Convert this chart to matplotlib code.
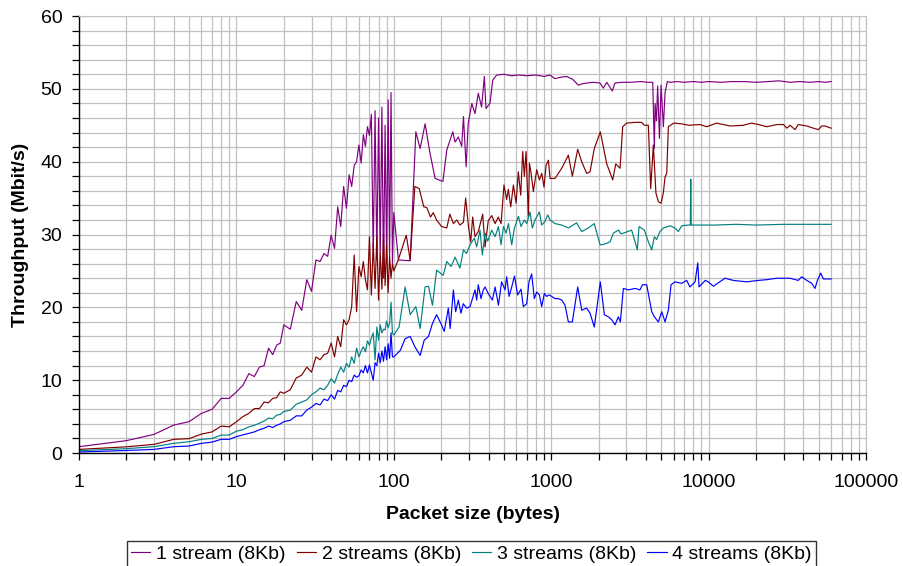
import matplotlib
matplotlib.use("Agg")
import matplotlib.pyplot as plt
from matplotlib.ticker import MultipleLocator, LogLocator, FuncFormatter, NullFormatter

# ── Colours (Excel default series palette) ──────────────────────────────────
PURPLE = "#800080"
MAROON = "#800000"
TEAL = "#008080"
BLUE = "#0000FF"
GRID = "#C0C0C0"

plt.rcParams.update({"font.family": ["Liberation Sans", "DejaVu Sans"], "font.size": 14})

# ── Data: packet sizes 1..100 shared by all series ─────────────────────────
SIZES_SMALL = list(range(1, 21)) + list(range(22, 101, 2))

S1_SMALL = [0.87, 1.7, 2.56, 3.84, 4.3, 5.45, 6.0, 7.5, 7.5, 8.4,
            9.3, 10.9, 10.5, 11.8, 12.0, 14.4, 13.5, 14.8, 15.1, 17.6,
            17.0, 20.8, 19.6, 23.8, 22.2, 26.5, 26.3, 27.4, 27.0, 29.9,
            28.1, 33.8, 31.1, 36.6, 33.6, 38.2, 36.6, 39.5, 40.0, 42.3,
            39.8, 43.7, 42.1, 44.8, 43.6, 46.5, 27.0, 47.0, 26.5, 46.0,
            27.5, 47.5, 24.0, 45.0, 26.5, 48.5, 27.0, 49.5, 26.0, 33.0]
S2_SMALL = [0.5, 0.85, 1.19, 1.88, 1.97, 2.6, 2.9, 3.7, 3.6, 4.3,
            5.0, 5.45, 6.1, 6.1, 7.0, 6.9, 7.5, 7.6, 8.4, 8.2,
            8.7, 10.3, 10.7, 11.8, 11.1, 13.2, 12.8, 13.5, 13.7, 15.1,
            13.2, 16.0, 14.6, 18.3, 17.6, 18.3, 20.1, 27.2, 19.4, 25.6,
            24.2, 26.3, 23.8, 22.4, 29.7, 21.7, 28.8, 22.6, 29.7, 21.0,
            27.5, 22.5, 30.0, 23.0, 28.5, 22.0, 27.0, 24.0, 26.0, 25.0]
S3_SMALL = [0.32, 0.6, 0.87, 1.33, 1.55, 1.88, 2.0, 2.47, 2.47, 3.0,
            3.2, 3.6, 3.8, 4.1, 4.4, 4.8, 4.7, 5.2, 5.3, 5.7,
            5.9, 6.7, 7.0, 7.3, 8.0, 8.4, 8.9, 8.7, 9.3, 10.2,
            9.6, 10.8, 11.8, 11.1, 12.3, 11.8, 13.2, 12.3, 14.4, 13.2,
            14.0, 14.6, 13.9, 15.4, 14.8, 15.8, 16.5, 12.8, 17.3, 15.5,
            17.6, 16.5, 17.0, 16.9, 18.1, 17.2, 17.8, 20.7, 16.4, 16.2]
S4_SMALL = [0.14, 0.35, 0.5, 0.87, 0.96, 1.33, 1.5, 1.88, 1.88, 2.25,
            2.5, 2.7, 2.9, 3.2, 3.4, 3.7, 3.5, 3.8, 4.0, 4.3,
            4.5, 5.1, 5.1, 5.9, 6.3, 6.8, 6.6, 7.4, 7.2, 8.0,
            7.4, 8.6, 8.4, 9.3, 9.1, 10.0, 9.8, 10.7, 10.4, 10.6,
            11.4, 11.0, 12.0, 11.0, 12.1, 11.0, 10.0, 12.4, 12.0, 13.7,
            12.4, 14.0, 12.6, 14.6, 12.8, 15.0, 13.0, 16.5, 13.2, 13.2]

# ── Data: packet sizes above 100 (own sampling per series) ─────────────────
S1_TAIL_X = [107, 127, 138, 147, 158, 170, 183, 205, 217, 237,
             245, 257, 270, 277, 288, 297, 313, 328, 344, 361,
             376, 385, 408, 425, 450, 500, 560, 620, 700, 800,
             900, 982, 1057, 1150, 1254, 1370, 1486, 1580, 1679, 1850,
             2042, 2144, 2253, 2444, 2540, 2800, 3200, 3700, 4100, 4415,
             4520, 4571, 4660, 4745, 4870, 4987, 5158, 5287, 5469, 5688,
             6300, 7000, 8000, 9000, 10000, 12000, 14000, 17000, 20000, 24000,
             28000, 33000, 38000, 44000, 50000, 55000, 60000]
S1_TAIL_Y = [26.5, 26.4, 44.1, 41.8, 45.2, 41.1, 37.7, 37.3, 41.6, 44.1,
             42.7, 43.4, 42.1, 46.2, 39.3, 45.3, 48.0, 46.6, 49.4, 47.5,
             51.7, 47.3, 48.0, 51.2, 51.9, 52.0, 51.8, 51.9, 51.8, 51.9,
             51.7, 51.9, 51.4, 51.6, 51.7, 51.3, 50.5, 50.7, 50.8, 50.9,
             50.8, 50.1, 50.9, 49.7, 50.8, 50.9, 50.9, 51.0, 50.9, 50.9,
             41.8, 48.0, 45.6, 50.4, 43.2, 50.5, 44.8, 49.5, 51.0, 50.9,
             51.0, 50.9, 51.0, 50.9, 51.0, 50.9, 51.0, 51.0, 50.9, 51.0,
             51.1, 50.9, 51.0, 50.9, 51.0, 50.9, 51.0]

S2_TAIL_X = [107, 120, 127, 136, 145, 155, 162, 171, 178, 187,
             201, 217, 227, 239, 251, 263, 277, 286, 298, 308,
             317, 328, 344, 367, 380, 398, 419, 440, 461, 480,
             501, 521, 534, 553, 575, 598, 618, 640, 659, 675,
             692, 716, 727, 745, 770, 809, 841, 871, 900, 927,
             960, 983, 1057, 1166, 1285, 1362, 1473, 1562, 1679, 1764,
             1878, 2051, 2253, 2459, 2570, 2737, 2845, 3017, 3406, 3756,
             3906, 4140, 4285, 4455, 4626, 4795, 4987, 5156, 5285, 5418,
             5548, 6000, 6700, 7500, 8820, 9720, 11250, 13670, 16600, 18750,
             20700, 23400, 27100, 29900, 31400, 32900, 35400, 37100, 42000, 46300,
             49800, 52300, 55000, 60000]
S2_TAIL_Y = [26.6, 29.9, 26.5, 36.6, 36.3, 33.8, 33.7, 32.4, 33.0, 32.0,
             31.1, 30.9, 32.8, 31.5, 32.0, 31.3, 31.7, 35.0, 31.1, 29.0,
             32.4, 29.7, 30.4, 32.8, 28.3, 31.9, 32.6, 31.5, 32.4, 31.5,
             36.8, 34.8, 36.2, 33.8, 36.8, 34.3, 38.6, 35.4, 41.4, 38.0,
             41.4, 32.4, 39.8, 38.4, 35.9, 38.9, 37.5, 38.4, 36.5, 39.5,
             40.2, 37.7, 37.7, 39.1, 40.9, 38.0, 41.7, 40.0, 38.4, 38.6,
             41.8, 44.1, 39.7, 37.5, 39.7, 39.1, 44.8, 45.3, 45.4, 45.4,
             45.0, 45.0, 36.3, 42.3, 35.7, 34.5, 34.3, 35.7, 37.9, 38.4,
             44.8, 45.3, 45.2, 45.0, 45.1, 44.8, 45.3, 44.9, 45.0, 45.3,
             45.1, 44.8, 45.1, 45.1, 44.6, 45.0, 44.4, 45.1, 44.9, 44.6,
             44.4, 44.9, 44.9, 44.6]

S3_TAIL_X = [108, 118, 127, 138, 147, 158, 166, 176, 187, 206,
             217, 231, 245, 263, 277, 290, 305, 325, 336, 353,
             365, 380, 395, 419, 440, 462, 480, 497, 517, 535,
             561, 584, 619, 643, 675, 699, 733, 759, 789, 841,
             870, 913, 950, 982, 1057, 1166, 1285, 1450, 1562, 1722,
             1878, 2042, 2113, 2253, 2366, 2483, 2670, 2776, 2873, 3243,
             3525, 3612, 3906, 4140, 4350, 4520, 4670, 4900, 5158, 5688,
             6112, 6420, 6742, 7440, 7650, 7700, 7750, 8620, 9515, 11000,
             15000, 20000, 30000, 40000, 50000, 60000]
S3_TAIL_Y = [17.3, 22.8, 19.0, 20.1, 17.1, 22.8, 22.9, 20.3, 25.1, 24.4,
             26.3, 25.6, 26.9, 25.4, 27.9, 27.4, 28.6, 29.5, 28.3, 30.6,
             27.2, 30.2, 29.1, 30.6, 29.7, 31.1, 28.6, 31.1, 30.2, 31.5,
             28.6, 30.9, 32.5, 31.1, 32.0, 31.5, 33.1, 30.9, 32.0, 33.1,
             31.3, 31.8, 32.7, 32.0, 31.5, 31.3, 30.9, 31.6, 30.4, 30.9,
             31.5, 28.6, 28.6, 28.8, 29.0, 30.2, 30.6, 30.1, 30.2, 30.6,
             27.9, 31.1, 30.6, 29.0, 27.9, 29.7, 29.3, 30.4, 30.9, 31.2,
             30.9, 30.4, 31.2, 31.3, 31.3, 37.6, 31.3, 31.3, 31.3, 31.3,
             31.4, 31.3, 31.4, 31.4, 31.4, 31.4]

S4_TAIL_X = [110, 118, 127, 136, 147, 156, 166, 176, 187, 201,
             209, 222, 228, 239, 247, 257, 267, 276, 290, 305,
             328, 336, 344, 358, 370, 380, 398, 423, 440, 462,
             484, 509, 521, 540, 561, 584, 612, 643, 665, 699,
             722, 751, 781, 809, 841, 870, 904, 936, 968, 1007,
             1057, 1109, 1166, 1224, 1285, 1362, 1473, 1562, 1679, 1764,
             1878, 2051, 2175, 2306, 2422, 2543, 2670, 2749, 2873, 3090,
             3406, 3665, 3795, 4043, 4350, 4520, 4795, 5036, 5287, 5546,
             5770, 6110, 6740, 7260, 7600, 8200, 8530, 8690, 9515, 9960,
             10720, 12700, 14350, 17450, 20700, 23400, 27100, 29900, 32900, 37100,
             39000, 42000, 45200, 47400, 49100, 51500, 53600, 60000]
S4_TAIL_Y = [14.1, 15.7, 16.0, 14.6, 13.4, 15.5, 16.0, 17.8, 19.0, 17.6,
             16.7, 19.9, 17.1, 22.4, 19.4, 21.0, 19.2, 20.5, 19.9, 20.1,
             22.4, 21.0, 23.1, 21.2, 22.4, 22.8, 21.9, 21.0, 22.8, 20.3,
             23.5, 22.4, 24.2, 21.5, 22.8, 24.3, 21.7, 22.5, 20.1, 20.5,
             23.5, 24.6, 21.2, 22.1, 21.7, 20.1, 21.9, 21.5, 21.7, 21.5,
             21.2, 21.2, 21.0, 20.3, 18.0, 18.0, 22.8, 19.6, 19.9, 19.2,
             17.3, 23.5, 19.0, 18.7, 18.3, 17.6, 18.7, 18.0, 22.6, 22.4,
             22.6, 22.4, 23.1, 23.1, 19.4, 18.7, 18.0, 19.4, 18.0, 19.6,
             23.1, 23.5, 23.3, 23.7, 22.8, 23.5, 26.1, 22.8, 23.7, 23.5,
             22.9, 24.0, 23.7, 23.5, 23.7, 23.8, 24.0, 24.0, 24.0, 23.7,
             24.2, 23.7, 23.3, 22.6, 23.7, 24.7, 23.9, 23.9]

SERIES = [
    ("1 stream (8Kb)", PURPLE, S1_SMALL, S1_TAIL_X, S1_TAIL_Y),
    ("2 streams (8Kb)", MAROON, S2_SMALL, S2_TAIL_X, S2_TAIL_Y),
    ("3 streams (8Kb)", TEAL, S3_SMALL, S3_TAIL_X, S3_TAIL_Y),
    ("4 streams (8Kb)", BLUE, S4_SMALL, S4_TAIL_X, S4_TAIL_Y),
]

fig = plt.figure(figsize=(9.04, 5.66), dpi=100)
fig.patch.set_facecolor("white")
ax = fig.add_axes([0.0874, 0.1996, 0.8706, 0.7721])

for label, color, small, tx, ty in SERIES:
    ax.plot(SIZES_SMALL + tx, small + ty, color=color, linewidth=0.85, label=label)

ax.set_xscale("log")
ax.set_xlim(1, 100000)
ax.set_ylim(0, 60)

ax.yaxis.set_major_locator(MultipleLocator(10))
ax.yaxis.set_minor_locator(MultipleLocator(2))
ax.xaxis.set_major_locator(LogLocator(base=10, numticks=10))
ax.xaxis.set_minor_locator(LogLocator(base=10, subs=range(2, 10), numticks=60))
ax.xaxis.set_major_formatter(FuncFormatter(lambda v, p: f"{v:.0f}"))
ax.xaxis.set_minor_formatter(NullFormatter())

ax.grid(which="both", color=GRID, linewidth=0.9)
ax.set_axisbelow(True)
for side in ["top", "right"]:
    ax.spines[side].set_color(GRID)
for side in ["left", "bottom"]:
    ax.spines[side].set_color("black")
    ax.spines[side].set_linewidth(1.0)

ax.tick_params(which="both", direction="out", length=5, width=0.9, color="black")
ax.tick_params(axis="x", which="major", labelsize=14, pad=10)
ax.tick_params(axis="y", which="major", labelsize=14, pad=7)

ax.set_xlabel("Packet size (bytes)", fontsize=14, fontweight="bold")
ax.set_ylabel("Throughput (Mbit/s)", fontsize=14, fontweight="bold")
ax.xaxis.set_label_coords(0.5, -0.122)
ax.yaxis.set_label_coords(-0.064, 0.5)

leg = fig.legend(loc="center", bbox_to_anchor=(0.5216, 0.021), ncol=4,
                 fontsize=14, frameon=True, fancybox=False, shadow=False,
                 handlelength=1.0, handletextpad=0.3, columnspacing=0.55,
                 borderpad=0.2, borderaxespad=0)
leg.get_frame().set_edgecolor("black")
leg.get_frame().set_linewidth(1.0)

fig.savefig("out.png", dpi=100)
